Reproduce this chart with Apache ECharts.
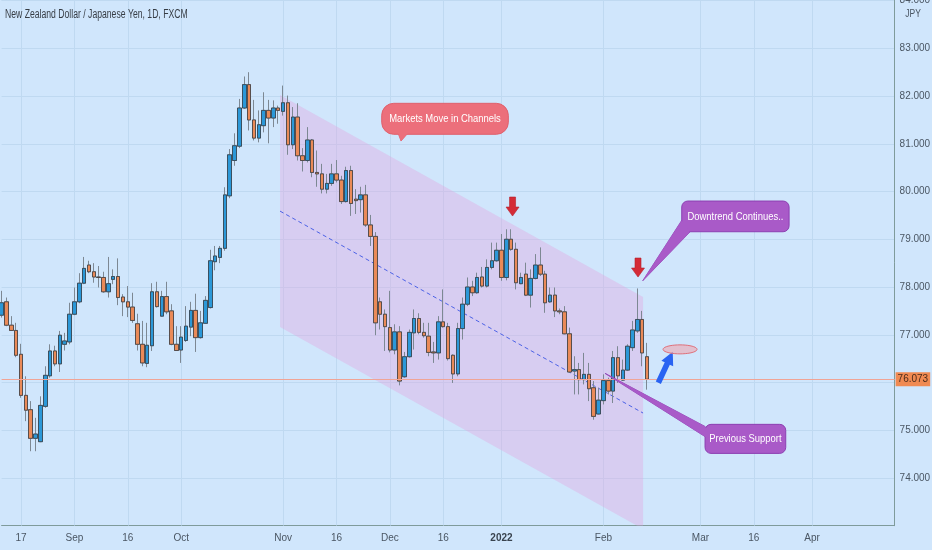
<!DOCTYPE html>
<html><head><meta charset="utf-8">
<script src="https://cdn.jsdelivr.net/npm/echarts@6/dist/echarts.min.js"></script>
<style>html,body{margin:0;padding:0;background:#d0e6fc;}#c{width:932px;height:550px;}</style>
</head><body><div id="c"></div>
<script>
// ---- data ----
const firstDay = '2021-08-11';   // first trading day on the axis
const slotCount = 185;           // weekday slots on the time axis (incl. future space)
const tickLabels = [
  ['2021-08-17','17'],['2021-09-01','Sep'],['2021-09-16','16'],['2021-10-01','Oct'],
  ['2021-11-01','Nov'],['2021-11-16','16'],['2021-12-01','Dec'],['2021-12-16','16'],
  ['2022-01-03','2022'],['2022-02-01','Feb'],['2022-03-01','Mar'],['2022-03-16','16'],['2022-04-01','Apr']
];
const opens = [77.41,77.69,77.20,77.09,76.59,75.73,75.43,74.83,74.76,75.50,76.14,76.66,76.39,76.80,76.85,77.43,77.69,78.08,78.46,78.32,
78.21,78.20,77.90,78.16,78.22,77.79,77.69,77.58,77.23,76.80,76.40,76.77,77.90,77.39,77.80,77.50,76.80,76.68,76.88,77.16,
77.51,76.94,77.24,77.57,78.53,78.62,78.81,79.91,80.65,80.95,81.75,82.24,81.50,81.12,81.38,81.70,81.54,81.75,81.68,81.86,
80.98,81.56,80.75,80.65,81.08,80.40,80.37,80.05,80.17,80.37,80.24,79.79,80.44,79.84,79.83,79.93,79.30,79.06,77.69,77.43,
77.15,76.68,77.06,76.12,76.54,77.04,77.34,77.05,76.97,76.64,76.62,77.27,77.17,76.57,76.18,77.13,77.64,78.00,77.88,78.21,
78.02,78.41,78.55,78.77,78.20,79.00,78.79,78.07,78.27,77.83,78.18,78.46,78.27,77.69,77.83,77.50,77.48,77.02,76.24,76.27,
76.06,76.17,75.89,75.34,75.62,76.04,75.82,76.52,76.05,76.26,76.73,77.08,77.32,76.54];
const closes = [77.67,77.20,77.09,76.57,75.73,75.42,74.83,74.92,75.52,76.15,76.66,76.39,76.99,76.87,77.43,77.69,78.08,78.39,78.32,78.21,
78.20,77.90,78.07,78.22,77.78,77.69,77.58,77.30,76.80,76.41,76.78,77.90,77.59,77.80,77.48,76.80,76.67,76.95,77.18,77.51,
76.94,77.25,77.72,78.55,78.65,78.81,79.93,80.77,80.96,81.75,82.24,81.50,81.12,81.40,81.70,81.54,81.75,81.70,81.86,80.98,
81.56,80.75,80.65,81.08,80.40,80.37,80.05,80.17,80.37,80.24,79.79,80.44,79.75,79.81,79.93,79.30,79.06,77.25,77.43,77.17,
76.68,77.06,76.03,76.54,77.05,77.34,77.05,76.98,76.63,76.62,77.27,77.17,76.50,76.18,77.13,77.64,78.00,77.88,78.20,78.02,
78.41,78.55,78.77,78.20,79.00,78.79,78.09,78.20,77.83,78.18,78.46,78.27,77.67,77.83,77.50,77.48,77.02,76.22,76.27,76.06,
76.17,75.87,75.29,75.63,76.04,75.82,76.52,76.14,76.26,76.76,77.10,77.32,76.62,76.07];
const lows = [77.36,77.18,77.08,76.53,75.68,75.19,74.56,74.56,74.75,75.47,76.10,76.34,76.22,76.67,76.80,77.41,77.66,78.06,78.29,78.09,
77.99,77.88,77.78,78.06,77.62,77.39,77.37,77.25,76.67,76.34,76.32,76.66,77.57,77.38,77.43,76.78,76.66,76.41,76.85,76.97,
76.64,76.92,77.23,77.55,78.35,78.50,78.76,79.86,80.54,80.91,81.73,81.28,81.07,81.03,81.24,81.01,81.35,81.42,81.59,80.77,
80.89,80.65,80.42,80.61,80.30,80.10,79.96,79.96,80.12,80.19,79.74,79.77,79.49,79.53,79.56,79.26,78.86,76.99,77.11,76.66,
76.63,76.59,75.94,76.10,76.52,76.69,77.01,76.94,76.55,76.41,76.48,77.15,76.46,75.99,76.13,76.90,77.60,77.81,77.86,77.99,
77.99,78.37,78.53,78.13,78.14,78.76,77.95,78.06,77.81,77.57,78.16,78.23,77.46,77.67,77.37,77.43,77.01,76.20,75.75,75.75,
75.96,75.61,75.22,75.33,75.54,75.75,75.57,75.99,76.03,76.24,76.66,77.04,76.34,75.85];
const highs = [77.92,77.78,77.39,77.25,76.81,76.13,75.61,75.26,75.71,76.34,76.80,76.77,77.08,77.04,77.67,77.99,78.29,78.63,78.55,78.50,
78.44,78.32,78.63,78.37,78.60,77.85,78.02,77.88,77.44,77.29,77.25,78.08,78.11,77.92,78.11,77.64,77.18,77.18,77.60,77.69,
77.86,77.50,77.81,78.78,78.86,78.86,80.09,80.89,81.22,81.94,82.41,82.50,81.92,81.70,82.08,81.92,81.91,81.80,82.22,82.01,
81.77,81.85,80.91,81.35,81.10,80.86,80.58,80.37,80.58,80.66,80.33,80.52,80.54,80.05,80.10,80.14,79.51,79.15,77.78,77.53,
77.92,77.22,77.18,76.64,77.11,77.53,77.45,77.25,77.25,76.85,77.39,77.95,77.25,76.59,77.25,77.78,78.20,78.13,78.30,78.42,
78.58,78.93,78.93,79.11,79.21,79.21,78.93,78.30,78.51,78.37,78.69,78.83,78.34,77.99,77.99,77.55,77.60,77.15,76.55,76.41,
76.62,76.41,76.03,75.89,76.17,76.10,76.66,76.76,76.48,76.80,77.29,77.97,77.50,76.83];
const lastPrice = 76.073;

// ---- drawings (anchored to [slot index, price]) ----
const channelTop = [[57.37, 82.02], [132.17, 77.79]];
const channelBottom = [[57.37, 77.16], [132.17, 72.93]];
const callouts = [
  {text:'Markets Move in Channels', box:[[78.32,81.848],[104.41,81.199]], tail:[[81.68,81.226],[83.74,81.226],[82.30,81.058]], color:'#ec6f7b', border:'#e0606c', r:12},
  {text:'Downtrend Continues..', box:[[140.14,79.801],[162.26,79.158]], tail:[[140.16,79.40],[141.82,79.152],[132.10,78.13]], color:'#a95ac8', border:'#8d3fb2', r:6},
  {text:'Previous Support', box:[[144.94,75.123],[161.57,74.515]], tail:[[144.94,75.08],[146.6,74.76],[124.34,76.191]], color:'#a95ac8', border:'#8d3fb2', r:6}
];
const downArrows = [[105.28, 79.487], [131.13, 78.209]];
const upArrow = [[135.32, 75.994], [138.29, 76.644]];
const ellipseMark = [139.79, 76.694];

// ---- build ----
const FONT = "'Liberation Sans',Arial,sans-serif";
function weekdays(start, n){
  const out=[]; const d=new Date(start+'T00:00:00Z');
  while(out.length<n){ const w=d.getUTCDay(); if(w!==0&&w!==6) out.push(d.toISOString().slice(0,10)); d.setUTCDate(d.getUTCDate()+1); }
  return out;
}
const categories = weekdays(firstDay, slotCount);
const labelMap = new Map(tickLabels);
const tickIndex = tickLabels.map(t=>categories.indexOf(t[0]));
const ohlc = opens.map((o,i)=>[o, closes[i], lows[i], highs[i]]);
const bodies = opens.map((o,i)=>[o, closes[i], Math.min(o,closes[i]), Math.max(o,closes[i])]);

function ellipsePts(cx, cy, rx, ry){ const p=[]; for(let k=0;k<40;k++){const a=k/40*Math.PI*2; p.push([cx+rx*Math.cos(a), cy+ry*Math.sin(a)]);} return p; }

const chart = echarts.init(document.getElementById('c'));
chart.setOption({
  animation:false,
  backgroundColor:'#d0e6fc',
  textStyle:{fontFamily:FONT},
  grid:{left:1.6, right:37.4, top:0, bottom:24.3, containLabel:false, outerBoundsMode:'none'},
  xAxis:[{
    type:'category', data:categories, boundaryGap:false,
    axisLine:{show:true, onZero:false, lineStyle:{color:'#7f9b9b', width:1}},
    axisTick:{show:false},
    axisLabel:{interval:(i,v)=>labelMap.has(v), formatter:v=> v==='2022-01-03' ? '{b|2022}' : (labelMap.get(v)||''),
      color:'#4a5663', fontSize:10, margin:8, fontFamily:FONT,
      rich:{b:{fontWeight:'bold', color:'#39434e', fontSize:10, fontFamily:FONT}}},
    splitLine:{show:false}
  },{
    type:'value', min:0, max:slotCount-1, show:false
  }],
  yAxis:{
    type:'value', position:'right', min:73, max:84.0125, interval:1, scale:true,
    axisLine:{show:true, onZero:false, lineStyle:{color:'#7f9b9b', width:1}},
    axisTick:{show:false},
    axisLabel:{color:'#4a5663', fontSize:10, margin:5, fontFamily:FONT,
      formatter:v=> {const r=Math.round(v); return (Math.abs(v-r)<1e-6 && r!==76 && r!==73) ? v.toFixed(3) : '';}},
    splitLine:{show:true, lineStyle:{color:'#bfd9f1', width:1}}
  },
  series:[
    { // vertical grid at date labels, channel + midline
      type:'custom', xAxisIndex:1, yAxisIndex:0, clip:true, z:1, silent:true, data:[[0,80]],
      renderItem:(params, api)=>{
        const grid = tickIndex.map(i=>{
          const a=api.coord([i,84.0125]), b=api.coord([i,73]);
          const x=Math.round(a[0])+0.5;
          return {type:'line', shape:{x1:x,y1:a[1],x2:x,y2:b[1]}, style:{stroke:'#bfd9f1', lineWidth:1}};
        });
        const pts=[channelTop[0],channelTop[1],channelBottom[1],channelBottom[0]].map(p=>api.coord(p));
        const m0=api.coord([(channelTop[0][0]+channelBottom[0][0])/2,(channelTop[0][1]+channelBottom[0][1])/2]);
        const m1=api.coord([(channelTop[1][0]+channelBottom[1][0])/2,(channelTop[1][1]+channelBottom[1][1])/2]);
        return {type:'group', children:grid.concat([
          {type:'polygon', shape:{points:pts}, style:{fill:'rgba(228,160,222,0.36)'}},
          {type:'line', shape:{x1:m0[0],y1:m0[1],x2:m1[0],y2:m1[1]}, style:{stroke:'#4c62e6', lineWidth:1, lineDash:[4,3]}}
        ])};
      }
    },
    { // wicks
      type:'candlestick', name:'NZDJPY', data:ohlc, barWidth:4, z:2,
      itemStyle:{color:'#2b98d8', color0:'#ea8a58', borderColor:'#7d8893', borderColor0:'#7d8893', borderWidth:1},
      markLine:{symbol:'none', silent:true, animation:false,
        data:[{yAxis:lastPrice}],
        lineStyle:{color:'#f0a496', width:1, type:'solid'},
        label:{show:true, position:'end', formatter:lastPrice.toFixed(3), backgroundColor:'#f08a52', color:'#4a2c1c',
          padding:[2,2,2,2], fontSize:10, fontFamily:FONT, distance:1}}
    },
    { // bodies
      type:'candlestick', data:bodies, barWidth:4, z:3,
      itemStyle:{color:'#2b98d8', color0:'#ea8a58', borderColor:'#30353b', borderColor0:'#30353b', borderWidth:0.7}
    },
    { // annotations
      type:'custom', xAxisIndex:1, yAxisIndex:0, clip:false, z:5, silent:true, data:[[0,80]],
      renderItem:(params, api)=>{
        const ch=[];
        callouts.forEach(c=>{
          const a=api.coord(c.box[0]), b=api.coord(c.box[1]);
          ch.push({type:'polygon', shape:{points:c.tail.map(p=>api.coord(p))}, style:{fill:c.color, stroke:c.border, lineWidth:0.8}});
          ch.push({type:'rect', shape:{x:a[0], y:a[1], width:b[0]-a[0], height:b[1]-a[1], r:c.r}, style:{fill:c.color, stroke:c.border, lineWidth:1}});
          ch.push({type:'polygon', shape:{points:c.tail.map(p=>api.coord(p))}, style:{fill:c.color}});
          ch.push({type:'text', x:(a[0]+b[0])/2, y:(a[1]+b[1])/2, scaleX:0.82,
            style:{text:c.text, x:0, y:0, align:'center', verticalAlign:'middle',
            textAlign:'center', textVerticalAlign:'middle', fill:'#ffffff', fontSize:11.5, fontFamily:FONT}});
        });
        downArrows.forEach(t=>{
          const [x,y]=api.coord(t);
          ch.push({type:'polygon', shape:{points:[[x-3,y-19],[x+3,y-19],[x+3,y-9],[x+6.5,y-9],[x,y],[x-6.5,y-9],[x-3,y-9]]},
            style:{fill:'#d42b37', stroke:'#b51e2a', lineWidth:0.6}});
        });
        {
          const s=api.coord(upArrow[0]), e=api.coord(upArrow[1]);
          const dx=e[0]-s[0], dy=e[1]-s[1], L=Math.hypot(dx,dy), ux=dx/L, uy=dy/L, nx=-uy, ny=ux;
          const hl=13, hw=6.5, sw=2.8;
          const bx=e[0]-ux*hl, by=e[1]-uy*hl;
          ch.push({type:'polygon', shape:{points:[
            [s[0]+nx*sw,s[1]+ny*sw],[bx+nx*sw,by+ny*sw],[bx+nx*hw,by+ny*hw],[e[0],e[1]],
            [bx-nx*hw,by-ny*hw],[bx-nx*sw,by-ny*sw],[s[0]-nx*sw,s[1]-ny*sw]]},
            style:{fill:'#2a63f2'}});
        }
        {
          const [cx,cy]=api.coord(ellipseMark);
          ch.push({type:'polygon', shape:{points:ellipsePts(cx,cy,17,4.5)}, style:{fill:'rgba(238,166,176,0.6)', stroke:'#e0707a', lineWidth:1}});
        }
        return {type:'group', children:ch};
      }
    }
  ],
  graphic:[
    {type:'text', x:5, y:15, scaleX:0.72, z:10, style:{text:'New Zealand Dollar / Japanese Yen, 1D, FXCM', x:0, y:0, verticalAlign:'middle', textVerticalAlign:'middle', fill:'#363c44', fontSize:12, fontFamily:FONT}},
    {type:'text', x:913, y:14, z:10, scaleX:0.85, style:{text:'JPY', x:0, y:0, align:'center', verticalAlign:'middle', textAlign:'center', textVerticalAlign:'middle', fill:'#4a5663', fontSize:10, fontFamily:FONT}}
  ]
});
</script>
</body></html>
